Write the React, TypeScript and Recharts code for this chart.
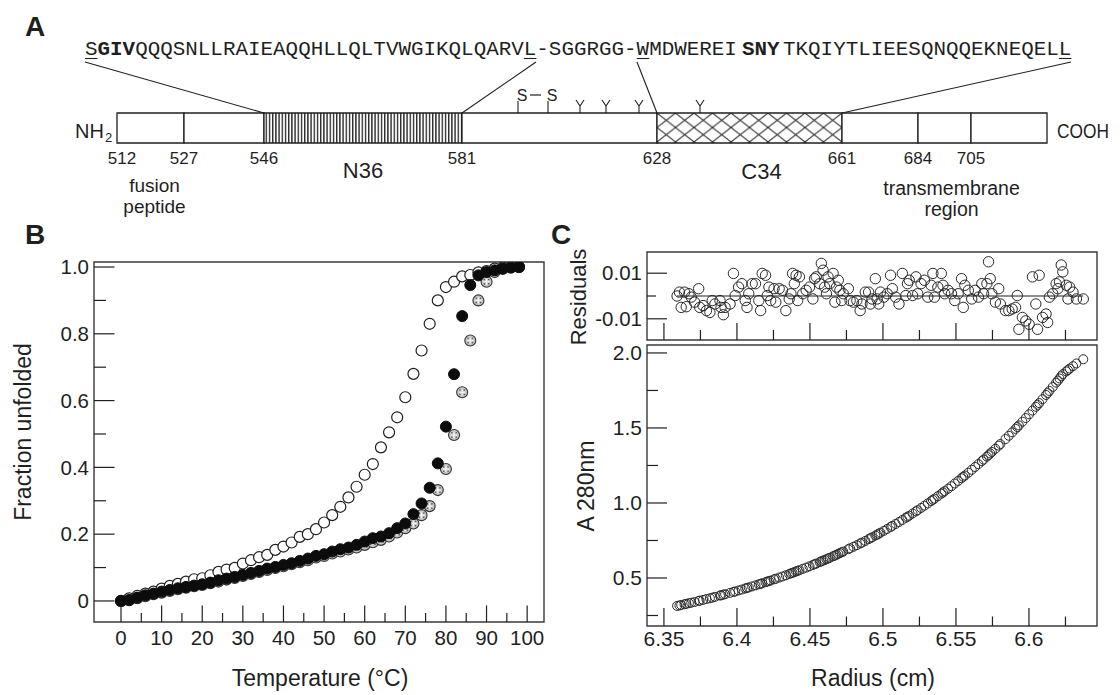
import React from 'react';
import { ScatterChart, Scatter, XAxis, YAxis, ReferenceArea, ReferenceLine, ReferenceDot } from 'recharts';

const FONT = '"Liberation Sans", Arial, Helvetica, sans-serif';
const MONO = '"Liberation Mono", "Courier New", monospace';
const INK = '#1f1f1f';
const FRAME = '#3a3a3a';

// ---------------- Panel A (schematic of gp41) ----------------
const domainResidues = ['512', '527', '546', '581', '628', '661', '684', '705'];
const domainSpans = [67, 80, 198, 195, 185, 76, 53, 76]; // schematic lengths
const domainKinds = ['plain', 'plain', 'n36', 'plain', 'c34', 'plain', 'plain', 'plain'];
const seqN36 = 'SGIVQQQSNLLRAIEAQQHLLQLTVWGIKQLQARVL';
const seqLinker = '-SGGRGG-';
const seqC34 = 'WMDWEREISNYTKQIYTLIEESQNQQEKNEQELL';
const seqAnchors = [-32, 419, 520, 954]; // schematic positions of sequence ends
const connectorTargets = [2, 3, 4, 5];
const ssSites = [401, 431];
const glycoSites = [463, 489, 522, 583];

const domainBounds: number[] = domainSpans.reduce(
  (acc: number[], s: number) => { acc.push(acc[acc.length - 1] + s); return acc; },
  [0]
);
const A_TOTAL = domainBounds[domainBounds.length - 1];
const A_LEFT = 117;
const SEQ_X = A_LEFT + seqAnchors[0];

// ---------------- Panel B (thermal unfolding) ----------------
const tempC = [0, 2, 4, 6, 8, 10, 12, 14, 16, 18, 20, 22, 24, 26, 28, 30, 32, 34, 36, 38, 40, 42, 44, 46, 48,
  50, 52, 54, 56, 58, 60, 62, 64, 66, 68, 70, 72, 74, 76, 78, 80, 82, 84, 86, 88, 90, 92, 94, 96, 98];
const openFrac = [0.000, 0.008, 0.015, 0.022, 0.028, 0.037, 0.045, 0.051, 0.058, 0.065,
  0.068, 0.077, 0.087, 0.094, 0.099, 0.112, 0.122, 0.131, 0.138, 0.153,
  0.163, 0.175, 0.192, 0.200, 0.215, 0.235, 0.257, 0.282, 0.310, 0.342,
  0.378, 0.410, 0.460, 0.505, 0.550, 0.610, 0.680, 0.750, 0.830, 0.900,
  0.940, 0.956, 0.972, 0.976, 0.984, 0.988, 0.995, 0.998, 1.000, 1.000];
const filledFrac = [0.000, 0.003, 0.010, 0.017, 0.022, 0.028, 0.033, 0.038, 0.042, 0.046,
  0.050, 0.055, 0.062, 0.067, 0.072, 0.078, 0.084, 0.090, 0.097, 0.102,
  0.108, 0.113, 0.120, 0.127, 0.135, 0.140, 0.148, 0.155, 0.160, 0.168,
  0.178, 0.188, 0.193, 0.203, 0.218, 0.232, 0.260, 0.292, 0.339, 0.412,
  0.522, 0.679, 0.853, 0.946, 0.975, 0.985, 0.990, 0.995, 0.998, 1.000];
const stippledFrac = [0.000, 0.002, 0.008, 0.014, 0.020, 0.025, 0.030, 0.035, 0.040, 0.044,
  0.048, 0.053, 0.058, 0.064, 0.069, 0.075, 0.081, 0.087, 0.093, 0.099,
  0.104, 0.110, 0.116, 0.122, 0.130, 0.135, 0.142, 0.148, 0.154, 0.160,
  0.168, 0.176, 0.183, 0.193, 0.205, 0.218, 0.232, 0.257, 0.284, 0.332,
  0.395, 0.497, 0.625, 0.780, 0.900, 0.956, 0.985, 0.995, 1.000, 1.000];
const tempMajor = [0, 10, 20, 30, 40, 50, 60, 70, 80, 90, 100];
const tempLabels = ['0', '10', '20', '30', '40', '50', '60', '70', '80', '90', '100'];
const tempMinor = [5, 15, 25, 35, 45, 55, 65, 75, 85, 95];
const fracMajor = [0, 0.2, 0.4, 0.6, 0.8, 1.0];
const fracLabels = ['0', '0.2', '0.4', '0.6', '0.8', '1.0'];
const fracMinor = [0.1, 0.3, 0.5, 0.7, 0.9];
const tempDomain = [-6.65, 104.15];
const fracDomain = [-0.063, 1.015];

// ---------------- Panel C (sedimentation equilibrium) ----------------
const radius = [6.3590, 6.3606, 6.3618, 6.3641, 6.3653, 6.3671, 6.3687, 6.3710, 6.3738, 6.3745,
  6.3768, 6.3791, 6.3815, 6.3831, 6.3849, 6.3884, 6.3891, 6.3907, 6.3919, 6.3953,
  6.3976, 6.3988, 6.4011, 6.4034, 6.4057, 6.4069, 6.4081, 6.4104, 6.4127, 6.4150,
  6.4162, 6.4173, 6.4196, 6.4208, 6.4219, 6.4231, 6.4254, 6.4266, 6.4289, 6.4312,
  6.4335, 6.4358, 6.4370, 6.4381, 6.4393, 6.4405, 6.4416, 6.4428, 6.4451, 6.4474,
  6.4497, 6.4520, 6.4532, 6.4543, 6.4567, 6.4578, 6.4590, 6.4601, 6.4613, 6.4624,
  6.4636, 6.4659, 6.4671, 6.4682, 6.4694, 6.4705, 6.4717, 6.4728, 6.4763, 6.4775,
  6.4798, 6.4821, 6.4844, 6.4856, 6.4879, 6.4902, 6.4914, 6.4925, 6.4948, 6.4960,
  6.4971, 6.4983, 6.5006, 6.5029, 6.5052, 6.5064, 6.5087, 6.5110, 6.5133, 6.5157,
  6.5168, 6.5180, 6.5203, 6.5226, 6.5238, 6.5261, 6.5284, 6.5307, 6.5330, 6.5342,
  6.5353, 6.5376, 6.5400, 6.5411, 6.5423, 6.5446, 6.5469, 6.5492, 6.5515, 6.5538,
  6.5550, 6.5561, 6.5585, 6.5608, 6.5631, 6.5654, 6.5677, 6.5689, 6.5712, 6.5723,
  6.5735, 6.5746, 6.5770, 6.5793, 6.5804, 6.5839, 6.5862, 6.5885, 6.5908, 6.5920,
  6.5931, 6.5955, 6.5978, 6.6001, 6.6024, 6.6047, 6.6059, 6.6070, 6.6093, 6.6117,
  6.6128, 6.6140, 6.6163, 6.6186, 6.6198, 6.6209, 6.6221, 6.6232, 6.6256, 6.6267,
  6.6279, 6.6302, 6.6325, 6.6372];
const absorbance = [0.314, 0.317, 0.320, 0.325, 0.328, 0.332, 0.335, 0.340, 0.347, 0.349,
  0.354, 0.360, 0.365, 0.369, 0.374, 0.383, 0.385, 0.389, 0.392, 0.401,
  0.407, 0.410, 0.417, 0.423, 0.430, 0.434, 0.437, 0.444, 0.451, 0.458,
  0.461, 0.465, 0.472, 0.476, 0.480, 0.483, 0.491, 0.495, 0.503, 0.510,
  0.518, 0.527, 0.531, 0.535, 0.539, 0.544, 0.548, 0.552, 0.561, 0.569,
  0.578, 0.587, 0.592, 0.596, 0.606, 0.611, 0.616, 0.620, 0.625, 0.630,
  0.635, 0.645, 0.650, 0.655, 0.661, 0.666, 0.671, 0.676, 0.692, 0.698,
  0.708, 0.719, 0.730, 0.736, 0.747, 0.759, 0.765, 0.771, 0.783, 0.789,
  0.795, 0.802, 0.814, 0.827, 0.840, 0.847, 0.860, 0.873, 0.887, 0.902,
  0.908, 0.915, 0.930, 0.944, 0.952, 0.967, 0.982, 0.997, 1.013, 1.021,
  1.029, 1.045, 1.062, 1.070, 1.079, 1.095, 1.112, 1.130, 1.147, 1.165,
  1.175, 1.183, 1.202, 1.221, 1.240, 1.259, 1.279, 1.289, 1.309, 1.319,
  1.330, 1.340, 1.361, 1.382, 1.393, 1.426, 1.448, 1.471, 1.494, 1.506,
  1.517, 1.542, 1.566, 1.591, 1.616, 1.641, 1.654, 1.666, 1.692, 1.720,
  1.733, 1.747, 1.774, 1.802, 1.816, 1.830, 1.845, 1.859, 1.877, 1.886,
  1.896, 1.912, 1.930, 1.958];
const residuals = [0.0000, 0.0017, -0.0050, 0.0017, -0.0047, 0.0010, -0.0005, -0.0027, 0.0032, -0.0050,
  -0.0042, -0.0064, -0.0072, -0.0020, -0.0035, -0.0020, -0.0050, -0.0082, -0.0050, -0.0035,
  0.0099, 0.0002, 0.0039, 0.0054, -0.0020, -0.0050, 0.0010, 0.0054, 0.0054, -0.0020,
  -0.0064, 0.0099, 0.0091, 0.0002, 0.0039, -0.0020, 0.0032, -0.0027, 0.0032, 0.0025,
  -0.0064, -0.0013, 0.0010, 0.0099, 0.0054, 0.0091, -0.0020, 0.0084, 0.0010, 0.0025,
  0.0039, -0.0013, 0.0076, 0.0084, 0.0054, 0.0143, 0.0113, 0.0039, 0.0010, 0.0084,
  0.0054, 0.0099, -0.0027, 0.0039, 0.0069, 0.0025, -0.0020, 0.0010, 0.0032, -0.0020,
  -0.0027, -0.0020, -0.0064, -0.0035, 0.0017, 0.0017, -0.0035, -0.0013, 0.0076, -0.0013,
  -0.0035, 0.0017, -0.0005, 0.0010, 0.0091, 0.0032, -0.0005, -0.0035, 0.0099, 0.0002,
  0.0054, 0.0069, 0.0002, 0.0084, 0.0010, 0.0054, 0.0069, -0.0005, 0.0047, 0.0099,
  -0.0005, 0.0039, 0.0099, 0.0047, 0.0010, 0.0025, 0.0010, -0.0020, 0.0010, 0.0076,
  -0.0050, 0.0047, 0.0025, -0.0013, 0.0025, -0.0005, 0.0054, 0.0010, 0.0054, 0.0150,
  0.0076, 0.0010, -0.0027, 0.0032, -0.0035, -0.0064, -0.0064, -0.0057, -0.0050, 0.0002,
  -0.0146, -0.0094, -0.0109, -0.0124, 0.0084, -0.0035, -0.0146, 0.0091, -0.0094, -0.0079,
  -0.0116, -0.0005, 0.0010, 0.0054, 0.0032, 0.0062, 0.0136, 0.0106, 0.0047, -0.0013,
  0.0039, 0.0017, -0.0013, -0.0013];
const radiusMajor = [6.35, 6.4, 6.45, 6.5, 6.55, 6.6];
const radiusLabels = ['6.35', '6.4', '6.45', '6.5', '6.55', '6.6'];
const radiusMinor = [6.375, 6.425, 6.475, 6.525, 6.575, 6.625];
const absMajor = [0.5, 1.0, 1.5, 2.0];
const absLabels = ['0.5', '1.0', '1.5', '2.0'];
const absMinor = [0.25, 0.75, 1.25, 1.75];
const residMajor = [-0.01, 0.01];
const residLabels = ['-0.01', '0.01'];
const residMinor = [0];
const radiusDomain = [6.3384, 6.6466];
const absDomain = [0.18, 2.053];
const residDomain = [-0.0193, 0.0193];

// ---------------- helpers ----------------
const pts = (xs: number[], ys: number[]) => xs.map((x, i) => ({ x, y: ys[i] }));
const sorted = (a: number[], b: number[]) => [...a, ...b].sort((p, q) => p - q);

type TickSpec = {
  side: 'left' | 'bottom'; majors: number[]; labels: string[];
  majorLen: number; minorLen: number; gap: number; fontSize: number;
};
function makeTick(spec: TickSpec) {
  return (p: any) => {
    const v = Number(p.payload && p.payload.value);
    const mi = spec.majors.findIndex((m) => Math.abs(m - v) < 1e-9);
    const len = mi >= 0 ? spec.majorLen : spec.minorLen;
    const label = mi >= 0 ? spec.labels[mi] : '';
    if (spec.side === 'left') {
      return (
        <g>
          <line x1={p.x} y1={p.y} x2={p.x + len} y2={p.y} stroke={INK} strokeWidth={1.2} />
          {label ? (
            <text x={p.x - spec.gap} y={p.y + spec.fontSize * 0.355} textAnchor="end"
              fontSize={spec.fontSize} fontFamily={FONT} fill={INK}>{label}</text>
          ) : null}
        </g>
      );
    }
    return (
      <g>
        <line x1={p.x} y1={p.y} x2={p.x} y2={p.y - len} stroke={INK} strokeWidth={1.2} />
        {label ? (
          <text x={p.x} y={p.y + spec.gap} textAnchor="middle"
            fontSize={spec.fontSize} fontFamily={FONT} fill={INK}>{label}</text>
        ) : null}
      </g>
    );
  };
}

const openShape = (p: any) => (
  <circle cx={p.cx} cy={p.cy} r={5.5} fill="#fff" stroke={INK} strokeWidth={1.2} />
);
const filledShape = (p: any) => (
  <circle cx={p.cx} cy={p.cy} r={5.5} fill="#0c0c0c" stroke="#0c0c0c" strokeWidth={1} />
);
const stippleShape = (p: any) => (
  <g>
    <circle cx={p.cx} cy={p.cy} r={5.5} fill="#c6c6c6" stroke="#333" strokeWidth={1.1} />
    <path d={`M${p.cx - 3},${p.cy}h6M${p.cx},${p.cy - 3}v6`} stroke="#f4f4f4" strokeWidth={1.2} />
    <circle cx={p.cx - 2.2} cy={p.cy - 2.2} r={0.8} fill="#555" />
    <circle cx={p.cx + 2.2} cy={p.cy - 2.2} r={0.8} fill="#555" />
    <circle cx={p.cx - 2.2} cy={p.cy + 2.2} r={0.8} fill="#555" />
    <circle cx={p.cx + 2.2} cy={p.cy + 2.2} r={0.8} fill="#555" />
  </g>
);
const ringShape = (r: number) => (p: any) => (
  <circle cx={p.cx} cy={p.cy} r={r} fill="none" stroke="#2a2a2a" strokeWidth={1} />
);

// ---------------- Panel A ----------------
const domainTick = (p: any) => {
  const i = domainBounds.indexOf(Number(p.payload.value));
  return (
    <text x={p.x + (i === 0 ? 5 : 0)} y={p.y + 21} textAnchor="middle" fontSize={17}
      fontFamily={FONT} fill={INK}>{domainResidues[i]}</text>
  );
};

function PanelA() {
  const fillFor = (k: string) => (k === 'n36' ? 'url(#hatchN36)' : k === 'c34' ? 'url(#hatchC34)' : '#fff');
  return (
    <ScatterChart width={1120} height={230} margin={{ top: 113, right: 73, bottom: 0, left: 117 }}
      accessibilityLayer={false}>
      <XAxis type="number" dataKey="x" domain={[0, A_TOTAL]} allowDataOverflow
        ticks={domainBounds.slice(0, -1)} interval={0} tickSize={0} tickMargin={0}
        tickLine={false} axisLine={false} height={87} tick={domainTick} />
      <YAxis type="number" dataKey="y" domain={[0, 1]} allowDataOverflow hide />
      {domainSpans.map((s, i) => (
        <ReferenceArea key={'seg' + i} x1={domainBounds[i]} x2={domainBounds[i + 1]} y1={0} y2={1}
          fill={fillFor(domainKinds[i])} fillOpacity={1} stroke={INK} strokeWidth={1.3}
          ifOverflow="visible" />
      ))}
      {seqAnchors.map((a, i) => (
        <ReferenceLine key={'con' + i}
          segment={[{ x: a, y: 2.7 }, { x: domainBounds[connectorTargets[i]], y: 1 }]}
          stroke={INK} strokeWidth={1.1} ifOverflow="visible" />
      ))}
      {ssSites.map((s, i) => (
        <ReferenceLine key={'ss' + i} segment={[{ x: s, y: 1 }, { x: s, y: 1.4 }]}
          stroke={INK} strokeWidth={1.1} ifOverflow="visible" />
      ))}
      {ssSites.map((s, i) => (
        <ReferenceDot key={'sl' + i} x={s} y={1.6} r={0} ifOverflow="visible"
          shape={(p: any) => (
            <text x={p.cx + 4} y={p.cy + 5.5} textAnchor="middle" fontSize={16}
              fontFamily={FONT} fill={INK}>S</text>
          )} />
      ))}
      <ReferenceLine segment={[{ x: ssSites[0] + 12, y: 1.6 }, { x: ssSites[1] - 7, y: 1.6 }]}
        stroke={INK} strokeWidth={1.2} ifOverflow="visible" />
      {glycoSites.map((g, i) => (
        <ReferenceDot key={'gl' + i} x={g} y={1.233} r={0} ifOverflow="visible"
          shape={(p: any) => (
            <path d={`M${p.cx},${p.cy + 7}V${p.cy}M${p.cx - 4},${p.cy - 6}L${p.cx},${p.cy}L${p.cx + 4},${p.cy - 6}`}
              stroke={INK} strokeWidth={1.1} fill="none" />
          )} />
      ))}
      <Scatter data={domainBounds.map((b) => ({ x: b, y: 0 }))} shape={() => <g />}
        isAnimationActive={false} />
    </ScatterChart>
  );
}

// ---------------- Panel B ----------------
const bTickX = makeTick({ side: 'bottom', majors: tempMajor, labels: tempLabels, majorLen: 16.5, minorLen: 9, gap: 23, fontSize: 20.5 });
const bTickY = makeTick({ side: 'left', majors: fracMajor, labels: fracLabels, majorLen: 20.5, minorLen: 12, gap: 5, fontSize: 20.5 });

function PanelB() {
  return (
    <ScatterChart width={1120} height={695} margin={{ top: 262, right: 576, bottom: 0, left: 0 }}
      accessibilityLayer={false}>
      <XAxis type="number" dataKey="x" domain={tempDomain} allowDataOverflow
        ticks={sorted(tempMajor, tempMinor)} interval={0} tickSize={0} tickMargin={0}
        tickLine={false} axisLine={false} height={73} tick={bTickX} />
      <YAxis type="number" dataKey="y" domain={fracDomain} allowDataOverflow
        ticks={sorted(fracMajor, fracMinor)} interval={0} tickSize={0} tickMargin={0}
        tickLine={false} axisLine={false} width={94} tick={bTickY} />
      <ReferenceArea x1={tempDomain[0]} x2={tempDomain[1]} y1={fracDomain[0]} y2={fracDomain[1]}
        fill="none" fillOpacity={0} stroke={FRAME} strokeWidth={1.4} />
      <Scatter data={pts(tempC, openFrac)} shape={openShape} isAnimationActive={false} />
      <Scatter data={pts(tempC, stippledFrac)} shape={stippleShape} isAnimationActive={false} />
      <Scatter data={pts(tempC, filledFrac)} shape={filledShape} isAnimationActive={false} />
    </ScatterChart>
  );
}

// ---------------- Panel C ----------------
const cResTickX = makeTick({ side: 'bottom', majors: radiusMajor, labels: ['', '', '', '', '', ''], majorLen: 17, minorLen: 10, gap: 0, fontSize: 20.5 });
const cResTickY = makeTick({ side: 'left', majors: residMajor, labels: residLabels, majorLen: 20, minorLen: 9, gap: 5, fontSize: 20.5 });
const cTickX = makeTick({ side: 'bottom', majors: radiusMajor, labels: radiusLabels, majorLen: 18, minorLen: 9.5, gap: 20, fontSize: 21 });
const cTickY = makeTick({ side: 'left', majors: absMajor, labels: absLabels, majorLen: 20, minorLen: 11, gap: 5, fontSize: 21 });

function PanelCResiduals() {
  return (
    <ScatterChart width={1120} height={695} margin={{ top: 252, right: 23, bottom: 0, left: 0 }}
      accessibilityLayer={false}>
      <XAxis type="number" dataKey="x" domain={radiusDomain} allowDataOverflow
        ticks={sorted(radiusMajor, radiusMinor)} interval={0} tickSize={0} tickMargin={0}
        tickLine={false} axisLine={false} height={355} tick={cResTickX} />
      <YAxis type="number" dataKey="y" domain={residDomain} allowDataOverflow
        ticks={sorted(residMajor, residMinor)} interval={0} tickSize={0} tickMargin={0}
        tickLine={false} axisLine={false} width={647} tick={cResTickY} />
      <ReferenceArea x1={radiusDomain[0]} x2={radiusDomain[1]} y1={residDomain[0]} y2={residDomain[1]}
        fill="none" fillOpacity={0} stroke={FRAME} strokeWidth={1.4} />
      <ReferenceLine segment={[{ x: radius[0], y: 0 }, { x: radius[radius.length - 1], y: 0 }]}
        stroke={INK} strokeWidth={1.2} />
      <Scatter data={pts(radius, residuals)} shape={ringShape(5.2)} isAnimationActive={false} />
    </ScatterChart>
  );
}

function PanelCMain() {
  return (
    <ScatterChart width={1120} height={695} margin={{ top: 345, right: 23, bottom: 0, left: 0 }}
      accessibilityLayer={false}>
      <XAxis type="number" dataKey="x" domain={radiusDomain} allowDataOverflow
        ticks={sorted(radiusMajor, radiusMinor)} interval={0} tickSize={0} tickMargin={0}
        tickLine={false} axisLine={false} height={69} tick={cTickX} />
      <YAxis type="number" dataKey="y" domain={absDomain} allowDataOverflow
        ticks={sorted(absMajor, absMinor)} interval={0} tickSize={0} tickMargin={0}
        tickLine={false} axisLine={false} width={647} tick={cTickY} />
      <ReferenceArea x1={radiusDomain[0]} x2={radiusDomain[1]} y1={absDomain[0]} y2={absDomain[1]}
        fill="none" fillOpacity={0} stroke={FRAME} strokeWidth={1.4} />
      <Scatter data={pts(radius, absorbance)} shape={ringShape(4.5)} isAnimationActive={false} />
    </ScatterChart>
  );
}

// ---------------- Text overlay ----------------
function Overlay() {
  const px = (u: number) => A_LEFT + u;
  const cN36 = px((domainBounds[2] + domainBounds[3]) / 2);
  const cC34 = px((domainBounds[4] + domainBounds[5]) / 2) + 12;
  const cFus = px((domainBounds[0] + domainBounds[1]) / 2) + 4;
  const cTM = px((domainBounds[6] + domainBounds[7]) / 2) + 7;
  const cw = 12.54;
  const underline = (x0: number) => (
    <line x1={x0} y1={58.5} x2={x0 + cw} y2={58.5} stroke={INK} strokeWidth={1.1} />
  );
  return (
    <svg width={1120} height={695} style={{ position: 'absolute', left: 0, top: 0, pointerEvents: 'none' }}
      fontFamily={FONT} fill={INK}>
      <text x={25} y={36} fontSize={28} fontWeight="bold">A</text>
      <text x={25} y={244} fontSize={28} fontWeight="bold">B</text>
      <text x={551} y={244} fontSize={28} fontWeight="bold">C</text>

      <text x={SEQ_X} y={55} fontFamily={MONO} fontSize={20.9}>
        <tspan>{seqN36[0]}</tspan>
        <tspan fontWeight="bold">{seqN36.slice(1, 4)}</tspan>
        <tspan>{seqN36.slice(4) + seqLinker + seqC34.slice(0, 8)}</tspan>
        <tspan x={742} fontWeight="bold">{seqC34.slice(8, 11)}</tspan>
        <tspan x={783}>{seqC34.slice(11)}</tspan>
      </text>
      {underline(SEQ_X)}
      {underline(SEQ_X + 35 * cw)}
      {underline(SEQ_X + 44 * cw)}
      {underline(783 + 22 * cw)}

      <text x={104} y={137.5} fontSize={20} textAnchor="end">NH</text>
      <text x={105} y={141.5} fontSize={13}>2</text>
      <text x={1057} y={137.5} fontSize={20} textLength={52} lengthAdjust="spacingAndGlyphs">COOH</text>

      <text x={cN36} y={178} fontSize={22} textAnchor="middle">N36</text>
      <text x={cC34} y={179} fontSize={22} textAnchor="middle">C34</text>
      <text x={cFus} y={192} fontSize={19} textAnchor="middle">fusion</text>
      <text x={cFus} y={213} fontSize={19} textAnchor="middle">peptide</text>
      <text x={cTM} y={195} fontSize={19.5} textAnchor="middle">transmembrane</text>
      <text x={cTM} y={216} fontSize={19.5} textAnchor="middle">region</text>

      <text transform="translate(31,432) rotate(-90)" fontSize={23} textAnchor="middle">Fraction unfolded</text>
      <text x={320} y={686} fontSize={23} textAnchor="middle">Temperature (°C)</text>

      <text transform="translate(586,297) rotate(-90)" fontSize={22} textAnchor="middle">Residuals</text>
      <text transform="translate(594,486) rotate(-90)" fontSize={23} textAnchor="middle">A 280nm</text>
      <text x={873} y={686} fontSize={23} textAnchor="middle">Radius (cm)</text>
    </svg>
  );
}

function PatternDefs() {
  return (
    <svg width={0} height={0} style={{ position: 'absolute', left: 0, top: 0 }}>
      <defs>
        <pattern id="hatchN36" patternUnits="userSpaceOnUse" width={3.2} height={10}>
          <rect x={0} y={0} width={3.2} height={10} fill="#fff" />
          <line x1={0.7} y1={0} x2={0.7} y2={10} stroke="#1a1a1a" strokeWidth={1.3} />
        </pattern>
        <pattern id="hatchC34" patternUnits="userSpaceOnUse" width={18.5} height={14.5} x={657} y={113}>
          <rect x={0} y={0} width={18.5} height={14.5} fill="#fff" />
          <line x1={0} y1={0} x2={18.5} y2={14.5} stroke="#2a2a2a" strokeWidth={1} />
          <line x1={18.5} y1={0} x2={0} y2={14.5} stroke="#2a2a2a" strokeWidth={1} />
        </pattern>
      </defs>
    </svg>
  );
}

const layer: React.CSSProperties = { position: 'absolute', left: 0, top: 0 };

export default function App() {
  return (
    <div style={{ position: 'absolute', left: 0, top: 0, width: 1120, height: 695, background: '#fff', overflow: 'hidden' }}>
      <PatternDefs />
      <div style={layer}><PanelA /></div>
      <div style={layer}><PanelB /></div>
      <div style={layer}><PanelCResiduals /></div>
      <div style={layer}><PanelCMain /></div>
      <Overlay />
    </div>
  );
}
